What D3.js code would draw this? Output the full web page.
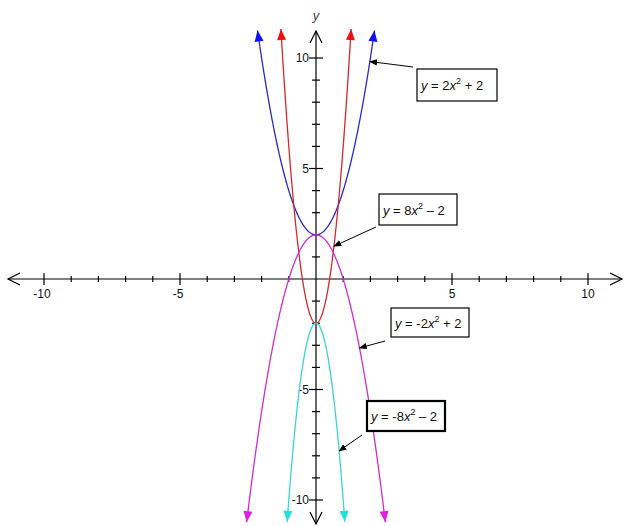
<!DOCTYPE html>
<html>
<head>
<meta charset="utf-8">
<script src="https://cdn.jsdelivr.net/npm/d3@7"></script>
<style>
  body { margin: 0; background: #fff; }
  text { font-family: "Liberation Sans", Arial, sans-serif; }
</style>
</head>
<body>
<div id="canvas"></div>
<script>
"use strict"

let svgWidth = 627
let svgHeight = 526

// y = a*x^2 + c, one entry per curve
let names = ["blue", "red", "magenta", "cyan"]
let coefA = [2, 8, -2, -8]
let coefC = [2, -2, 2, -2]
let xEnds = [2.15, 1.29, 2.55, 1.06]   // where each curve leaves the plot
let colors = ["#2a2ac8", "#d42a2a", "#d02fd0", "#3cd4d4"]
let headColors = ["#1010f0", "#f01010", "#e020e0", "#20e0e0"]
let labelA = ["2", "8", "-2", "-8"]
let labelC = ["+ 2", "\u2013 2", "+ 2", "\u2013 2"]
let pointAt = [1.98, 0.66, 1.6, 0.85]  // x where the label arrow touches the curve

let tickValues = d3.range(-10, 11).filter(d => d !== 0)
let tickLabels = [-10, -5, 5, 10]

let svg = d3.select("#canvas")
    .append("svg")
    .attr("width", svgWidth)
    .attr("height", svgHeight)

let xScale = d3.scaleLinear().domain([-10, 10]).range([44, 588])
let yScale = d3.scaleLinear().domain([-10, 10]).range([500, 58])
let x0 = xScale(0), y0 = yScale(0)

// arrow marker for label pointers
svg.append("defs").append("marker")
    .attr("id", "tip")
    .attr("viewBox", "0 0 10 10")
    .attr("refX", 9).attr("refY", 5)
    .attr("markerWidth", 8).attr("markerHeight", 8)
    .attr("markerUnits", "userSpaceOnUse")
    .attr("orient", "auto")
    .append("path")
    .attr("d", "M0,1 L10,5 L0,9 Z")
    .attr("fill", "black")

/* axes */
let axes = svg.append("g").attr("stroke", "black").attr("fill", "none").attr("stroke-width", 1.2)
axes.append("line").attr("x1", 8).attr("x2", 622).attr("y1", y0).attr("y2", y0)
axes.append("line").attr("x1", x0).attr("x2", x0).attr("y1", 31).attr("y2", 524)
axes.append("path").attr("d", `M20,${y0 - 6} L8,${y0} L20,${y0 + 6}`)
axes.append("path").attr("d", `M610,${y0 - 6} L622,${y0} L610,${y0 + 6}`)
axes.append("path").attr("d", `M${x0 - 6},43 L${x0},31 L${x0 + 6},43`)
axes.append("path").attr("d", `M${x0 - 6},512 L${x0},524 L${x0 + 6},512`)

// x ticks
axes.selectAll("line.xt").data(tickValues).enter().append("line")
    .attr("class", "xt")
    .attr("x1", d => xScale(d)).attr("x2", d => xScale(d))
    .attr("y1", d => y0 - (d % 5 === 0 ? 6 : 3))
    .attr("y2", d => y0 + (d % 5 === 0 ? 6 : 3))
// y ticks
axes.selectAll("line.yt").data(tickValues).enter().append("line")
    .attr("class", "yt")
    .attr("y1", d => yScale(d)).attr("y2", d => yScale(d))
    .attr("x1", d => x0 - (d % 5 === 0 ? 7 : 4))
    .attr("x2", d => x0 + (d % 5 === 0 ? 7 : 4))

svg.selectAll("text.xl").data(tickLabels).enter().append("text")
    .attr("class", "xl")
    .attr("x", d => xScale(d) + (d < 0 ? -2 : 0))
    .attr("y", y0 + 19)
    .attr("text-anchor", "middle")
    .attr("font-size", 12)
    .attr("fill", "#111")
    .text(d => d)

svg.selectAll("text.yl").data(tickLabels).enter().append("text")
    .attr("class", "yl")
    .attr("x", x0 - 7)
    .attr("y", d => yScale(d) + 4)
    .attr("text-anchor", "end")
    .attr("font-size", 12)
    .attr("fill", "#111")
    .text(d => d)

svg.append("text")
    .attr("x", x0).attr("y", 20)
    .attr("text-anchor", "middle")
    .attr("font-size", 13)
    .attr("font-style", "italic")
    .attr("fill", "#444")
    .text("y")

/* curves */
let line = d3.line().x(d => xScale(d[0])).y(d => yScale(d[1]))

names.forEach(function (name, i) {
    let f = x => coefA[i] * x * x + coefC[i]
    let pts = d3.range(-xEnds[i], xEnds[i] + 1e-9, xEnds[i] / 150).map(x => [x, f(x)])
    svg.append("path")
        .attr("class", "curve " + name)
        .attr("d", line(pts))
        .attr("fill", "none")
        .attr("stroke", colors[i])
        .attr("stroke-width", 1.3)

    // arrowheads at both ends
    let ends = [[pts[0], pts[3]], [pts[pts.length - 1], pts[pts.length - 4]]]
    ends.forEach(function (e) {
        let tx = xScale(e[0][0]), ty = yScale(e[0][1])
        let bx = xScale(e[1][0]), by = yScale(e[1][1])
        let ang = Math.atan2(ty - by, tx - bx)
        let L = 11, W = 4.5
        let cx = tx - L * Math.cos(ang), cy = ty - L * Math.sin(ang)
        let px = -Math.sin(ang) * W, py = Math.cos(ang) * W
        svg.append("path")
            .attr("d", `M${tx},${ty} L${cx + px},${cy + py} L${cx - px},${cy - py} Z`)
            .attr("fill", headColors[i])
    })
})

/* labels with pointers */
let boxes = [
    { x: 417, y: 69, w: 80, h: 32, sx: 413, sy: 67, bw: 1.2 },
    { x: 379, y: 194, w: 78, h: 31, sx: 376, sy: 227, bw: 1.2 },
    { x: 391, y: 308, w: 78, h: 29, sx: 385, sy: 341, bw: 1.2 },
    { x: 367, y: 401, w: 78, h: 30, sx: 362, sy: 435, bw: 2.2 }
]

names.forEach(function (name, i) {
    let b = boxes[i]
    let g = svg.append("g").attr("class", "label " + name)
    g.append("line")
        .attr("x1", b.sx).attr("y1", b.sy)
        .attr("x2", xScale(pointAt[i]))
        .attr("y2", yScale(coefA[i] * pointAt[i] * pointAt[i] + coefC[i]))
        .attr("stroke", "black")
        .attr("stroke-width", 1)
        .attr("marker-end", "url(#tip)")
    g.append("rect")
        .attr("x", b.x).attr("y", b.y)
        .attr("width", b.w).attr("height", b.h)
        .attr("fill", "white")
        .attr("stroke", "black")
        .attr("stroke-width", b.bw)
    let t = g.append("text")
        .attr("x", b.x + 4)
        .attr("y", b.y + b.h / 2 + 5)
        .attr("font-size", 13)
        .attr("fill", "#111")
    t.append("tspan").attr("font-style", "italic").text("y")
    t.append("tspan").text(" = " + labelA[i])
    t.append("tspan").attr("font-style", "italic").text("x")
    t.append("tspan").attr("font-size", 9).attr("dy", -6).text("2")
    t.append("tspan").attr("dy", 6).text(" " + labelC[i])
})
</script>
</body>
</html>
